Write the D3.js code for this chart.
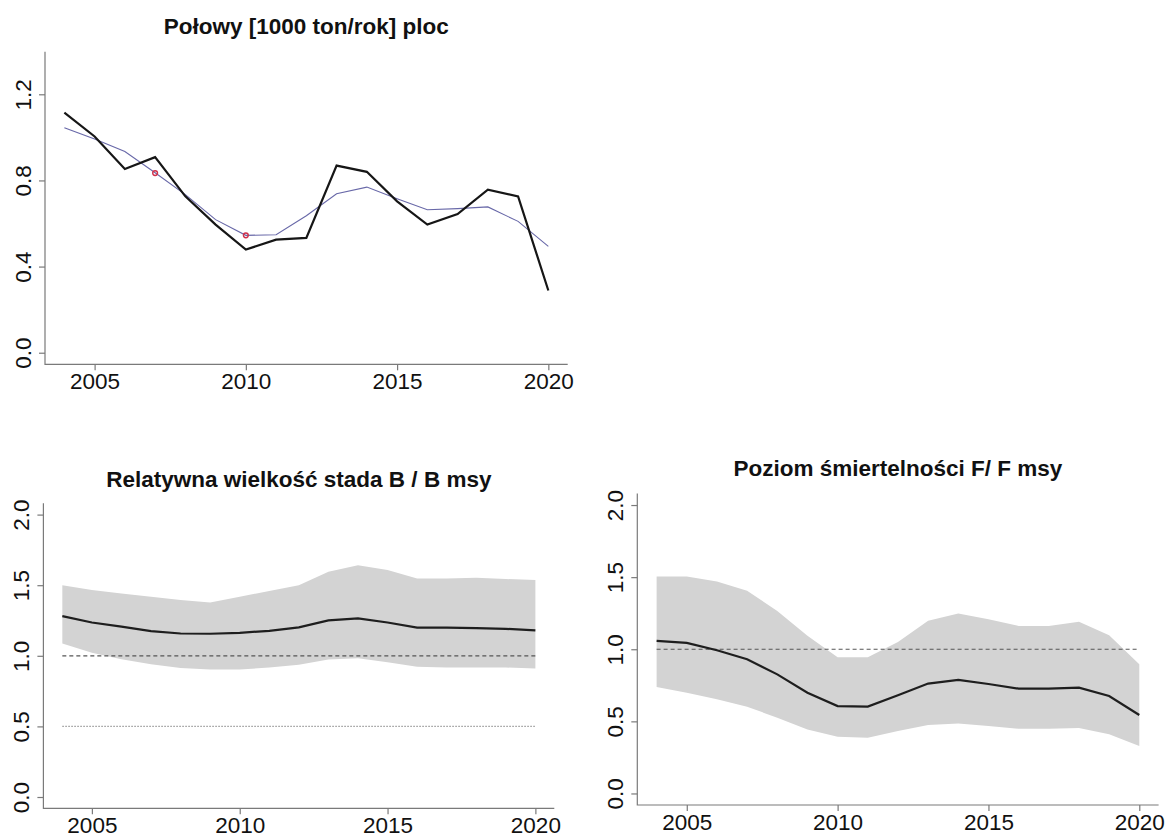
<!DOCTYPE html>
<html>
<head>
<meta charset="utf-8">
<script src="https://cdn.jsdelivr.net/npm/d3@7"></script>
<style>
  html, body { margin: 0; padding: 0; background: #fff; }
  svg { display: block; }
  text { font-family: "Liberation Sans", Arial, Helvetica, sans-serif; fill: #111; }
</style>
</head>
<body>
<svg id="chart" width="1167" height="834"></svg>
<script>
// ---------- DATA ----------
const years = [2004, 2005, 2006, 2007, 2008, 2009, 2010, 2011, 2012, 2013, 2014, 2015, 2016, 2017, 2018, 2019, 2020];

// Panel 1: catches [1000 t / year]
const catchObserved = [1.115, 1.004, 0.853, 0.908, 0.726, 0.595, 0.479, 0.525, 0.533, 0.869, 0.840, 0.703, 0.595, 0.644, 0.757, 0.726, 0.289];
const catchFitted   = [1.045, 0.992, 0.934, 0.836, 0.734, 0.618, 0.545, 0.548, 0.636, 0.738, 0.769, 0.715, 0.664, 0.669, 0.677, 0.610, 0.494];
const markedYears   = [2007, 2010];
const markedValues  = [0.834, 0.545];

// Panel 2: B / Bmsy
const bRatio = [1.281, 1.236, 1.206, 1.175, 1.158, 1.156, 1.163, 1.177, 1.201, 1.251, 1.265, 1.236, 1.199, 1.199, 1.196, 1.191, 1.180];
const bLower = [1.087, 1.021, 0.976, 0.941, 0.913, 0.903, 0.903, 0.917, 0.936, 0.974, 0.983, 0.955, 0.922, 0.917, 0.917, 0.917, 0.910];
const bUpper = [1.499, 1.466, 1.442, 1.418, 1.395, 1.378, 1.418, 1.459, 1.499, 1.596, 1.641, 1.608, 1.548, 1.548, 1.553, 1.544, 1.537];

// Panel 3: F / Fmsy
const fRatio = [1.058, 1.044, 0.993, 0.931, 0.826, 0.699, 0.606, 0.602, 0.681, 0.762, 0.787, 0.759, 0.727, 0.727, 0.734, 0.676, 0.544];
const fLower = [0.738, 0.699, 0.653, 0.602, 0.525, 0.444, 0.394, 0.387, 0.433, 0.475, 0.486, 0.468, 0.449, 0.449, 0.454, 0.410, 0.329];
const fUpper = [1.505, 1.505, 1.470, 1.405, 1.266, 1.093, 0.944, 0.944, 1.051, 1.197, 1.248, 1.208, 1.162, 1.162, 1.190, 1.097, 0.896];

// Axis ticks / labels
const xTicks = [2005, 2010, 2015, 2020];
const yTicksCatch = [0.0, 0.4, 0.8, 1.2];
const yTicksRatio = [0.0, 0.5, 1.0, 1.5, 2.0];

const titles = ["Połowy [1000 ton/rok] ploc", "Relatywna wielkość stada B / B msy", "Poziom śmiertelności F/ F msy"];

// ---------- DRAW ----------
const svg = d3.select("#chart");
const FONT = 22.5;
const AXIS_COL = "#7a7a7a";

function extend(lo, hi) { const d = (hi - lo) * 0.04; return [lo - d, hi + d]; }

function panel(opt) {
  const g = svg.append("g");
  const x = d3.scaleLinear().domain(extend(d3.min(years), d3.max(years))).range([opt.left, opt.right]);
  const y = d3.scaleLinear().domain(extend(opt.ylim[0], opt.ylim[1])).range([opt.bottom, opt.top]);

  // title
  g.append("text")
    .attr("x", (opt.left + opt.right) / 2).attr("y", opt.titleY)
    .attr("text-anchor", "middle")
    .style("font-size", FONT + "px").style("font-weight", "bold")
    .text(opt.title);

  // L-shaped box
  g.append("path")
    .attr("d", `M${opt.left},${opt.top}V${opt.bottom}H${opt.right}`)
    .attr("fill", "none").attr("stroke", AXIS_COL).attr("stroke-width", 1.2);

  // x axis
  const xa = g.append("g").attr("transform", `translate(0,${opt.bottom})`)
    .call(d3.axisBottom(x).tickValues(xTicks).tickFormat(d3.format("d")).tickSize(6).tickPadding(4));
  xa.select(".domain").remove();
  xa.selectAll("line").attr("stroke", AXIS_COL).attr("stroke-width", 1.2);
  xa.selectAll("text").style("font-size", FONT + "px").attr("fill", "#111")
    .attr("dy", null).attr("y", 24.5).attr("dominant-baseline", "auto");

  // y axis (labels rotated, as in R default las=0)
  const ya = g.append("g").attr("transform", `translate(${opt.left},0)`)
    .call(d3.axisLeft(y).tickValues(opt.yTicks).tickFormat(d3.format(".1f")).tickSize(6));
  ya.select(".domain").remove();
  ya.selectAll("line").attr("stroke", AXIS_COL).attr("stroke-width", 1.2);
  ya.selectAll(".tick text").remove();
  ya.selectAll(".tick").append("text")
    .attr("transform", "translate(-14.5,0) rotate(-90)")
    .attr("text-anchor", "middle")
    .attr("x", 0).attr("y", 0)
    .style("font-size", FONT + "px").attr("fill", "#111")
    .text(d => d3.format(".1f")(d));

  return { g, x, y };
}

// Panel 1
{
  const p = panel({ left: 45, right: 567.7, top: 51.7, bottom: 364.3, ylim: [0, 1.344],
                    yTicks: yTicksCatch, title: titles[0], titleY: 34.3 });
  const line = d3.line().x((d, i) => p.x(years[i])).y(d => p.y(d));
  p.g.append("path").datum(catchFitted).attr("d", line)
    .attr("fill", "none").attr("stroke", "#6868a8").attr("stroke-width", 1.1);
  p.g.append("path").datum(catchObserved).attr("d", line)
    .attr("fill", "none").attr("stroke", "#161616").attr("stroke-width", 2.2).attr("stroke-linejoin", "miter");
  p.g.selectAll("circle.mk").data(markedYears).enter().append("circle")
    .attr("cx", d => p.x(d)).attr("cy", (d, i) => p.y(markedValues[i]))
    .attr("r", 2.4).attr("fill", "none").attr("stroke", "#d0304a").attr("stroke-width", 1.4);
}

function ratioPanel(opt, mid, lo, hi, refLines) {
  const p = panel(opt);
  const area = d3.area().x((d, i) => p.x(years[i])).y0((d, i) => p.y(lo[i])).y1((d, i) => p.y(hi[i]));
  p.g.append("path").datum(mid).attr("d", area).attr("fill", "#d3d3d3").attr("stroke", "none");
  refLines.forEach(r => {
    p.g.append("line")
      .attr("x1", p.x(years[0])).attr("x2", p.x(years[years.length - 1]))
      .attr("y1", p.y(r.v)).attr("y2", p.y(r.v))
      .attr("stroke", r.col).attr("stroke-width", 1.2).attr("stroke-dasharray", r.dash);
  });
  const line = d3.line().x((d, i) => p.x(years[i])).y(d => p.y(d));
  p.g.append("path").datum(mid).attr("d", line)
    .attr("fill", "none").attr("stroke", "#1e1e1e").attr("stroke-width", 2.2);
}

// Panel 2
ratioPanel({ left: 43.4, right: 554.3, top: 503.3, bottom: 808.3, ylim: [0, 2],
             yTicks: yTicksRatio, title: titles[1], titleY: 486.5 },
           bRatio, bLower, bUpper,
           [{ v: 1.0, col: "#555", dash: "4,3" }, { v: 0.5, col: "#999", dash: "1.5,1.5" }]);

// Panel 3
ratioPanel({ left: 637.3, right: 1158.6, top: 493.5, bottom: 805, ylim: [0, 2],
             yTicks: yTicksRatio, title: titles[2], titleY: 476 },
           fRatio, fLower, fUpper,
           [{ v: 1.0, col: "#555", dash: "4,3" }]);
</script>
</body>
</html>
